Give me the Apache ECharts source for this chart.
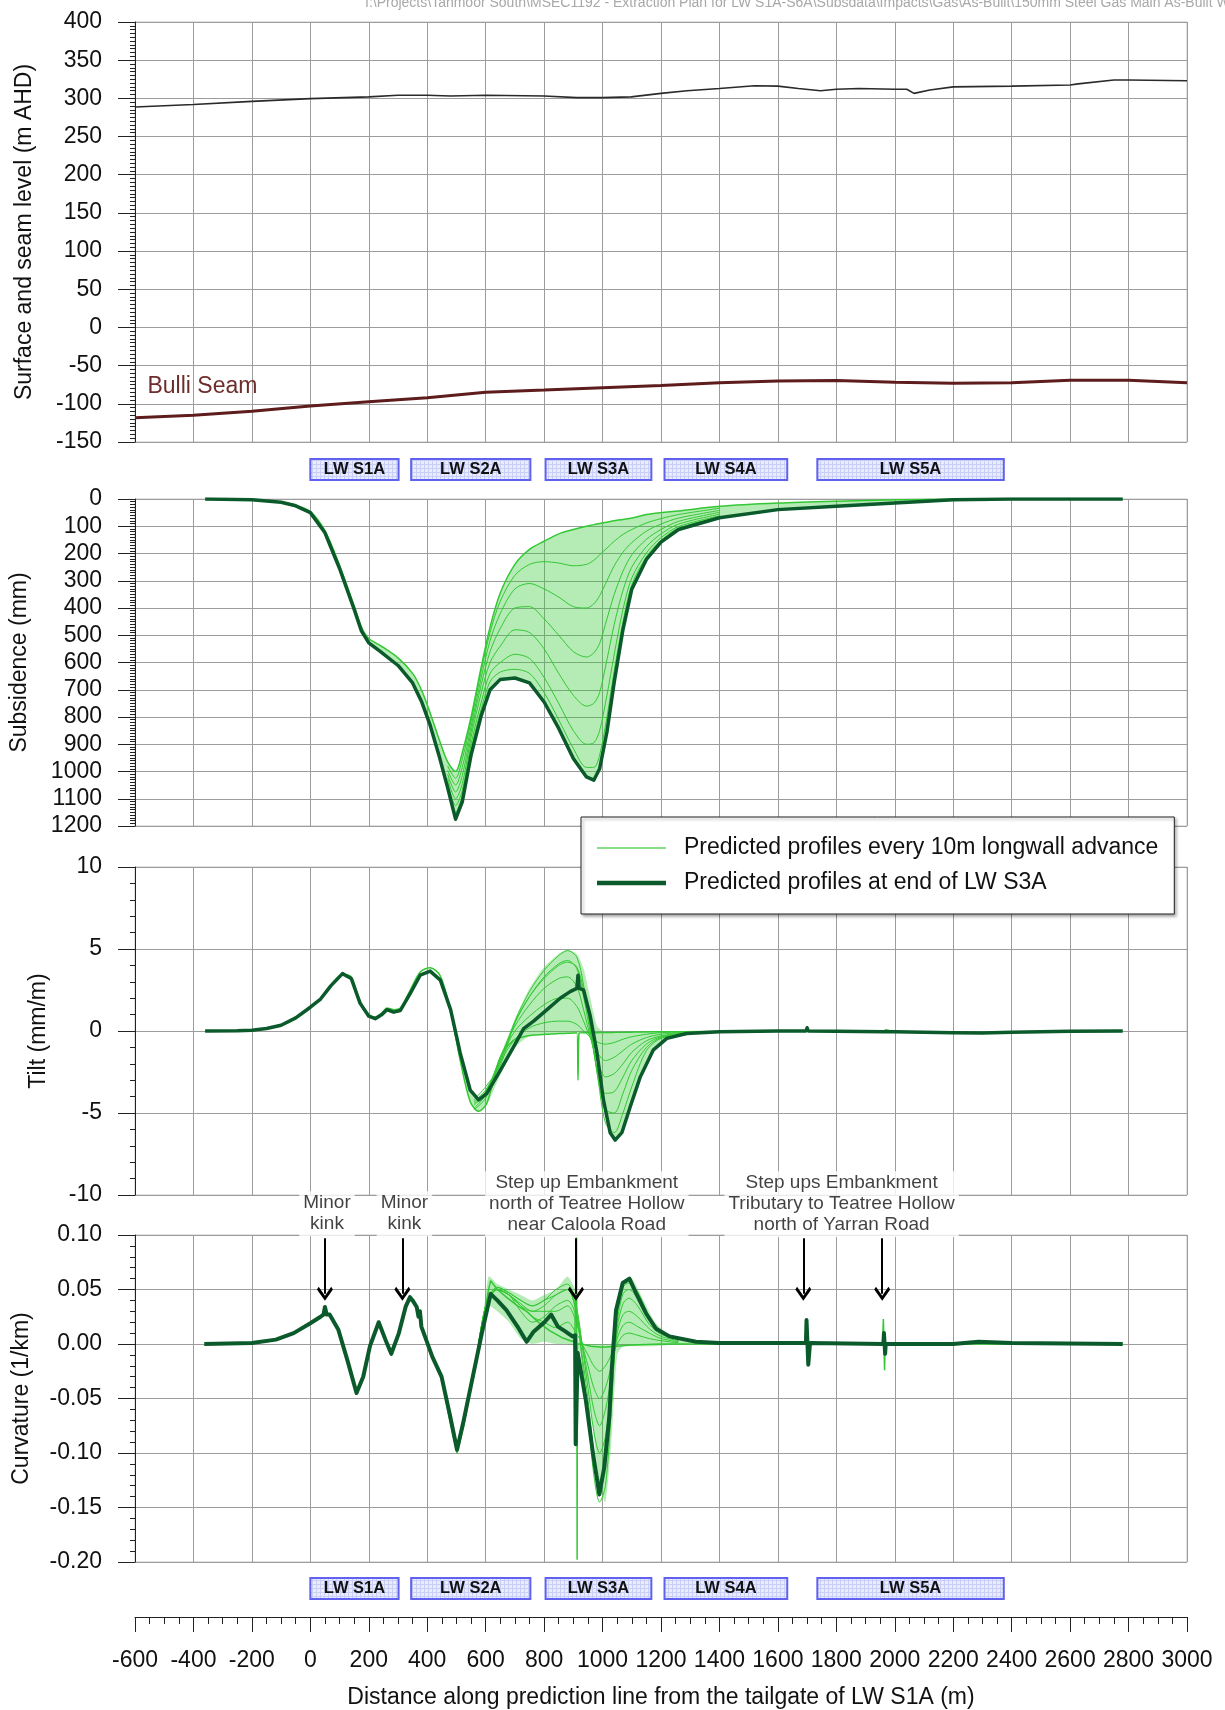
<!DOCTYPE html>
<html>
<head>
<meta charset="utf-8">
<title>Predicted profiles along the gas main</title>
<script src="https://cdn.jsdelivr.net/npm/echarts@6/dist/echarts.min.js"></script>
<style>
  html, body { margin: 0; padding: 0; background: #fff; }
  #chart { width: 1225px; height: 1710px; }
</style>
</head>
<body>
<div id="chart"></div>
<script>
const FONT = "Arial, 'Liberation Sans', sans-serif";
const LIGHT = 'Predicted profiles every 10m longwall advance';
const DARK = 'Predicted profiles at end of LW S3A';
const LIGHT_COLOR = '#33c833';
const DARK_COLOR = '#0b5a2b';

// ---- surface and seam levels (m AHD)
const surfX = [-600, -400, -200, 0, 200, 300, 400, 480, 600, 800, 912, 1000, 1098, 1200, 1289, 1400, 1520, 1600, 1670, 1746, 1800, 1877, 2000, 2041, 2066, 2120, 2200, 2400, 2600, 2627, 2750, 2800, 3000];
const surfLevel = [288.6, 292, 296, 299.6, 302, 304, 304, 303, 304, 303, 301, 301, 302, 306.5, 310, 313, 316.6, 316, 313, 310, 312, 313, 312, 312, 306.5, 311, 315, 316, 317.5, 319, 324, 324, 323];
const seamX = [-600, -400, -200, 0, 200, 400, 600, 800, 1000, 1200, 1400, 1600, 1800, 2000, 2200, 2400, 2600, 2800, 3000];
const seamLevel = [-118.3, -115, -109.6, -103, -97.4, -92, -84.7, -82, -79, -76, -72.5, -70, -69.5, -71.6, -73, -72.5, -69, -69, -72.5];

// ---- longwall panels
const lwNames = ['LW S1A', 'LW S2A', 'LW S3A', 'LW S4A', 'LW S5A'];
const lwStart = [0, 345, 805, 1212, 1735];
const lwEnd = [302, 753, 1167, 1632, 2373];

// ---- subsidence (mm)
const subX = [-360, -300, -200, -100, -50, 0, 50, 100, 150, 175, 200, 240, 300, 350, 380, 410, 440, 470, 497, 520, 550, 585, 615, 650, 700, 750, 800, 850, 900, 945, 970, 990, 1015, 1040, 1070, 1100, 1150, 1200, 1260, 1400, 1600, 1800, 2000, 2200, 2400, 2600, 2780];
const subFinal = [0, 1, 3, 12, 25, 50, 124, 255, 405, 485, 528, 560, 611, 675, 742, 830, 940, 1060, 1175, 1111, 940, 794, 700, 662, 657, 675, 745, 842, 952, 1020, 1032, 990, 855, 672, 478, 331, 222, 158, 112, 69, 39, 27, 15, 3, 0, 0, 0];
const subPre = [0, 1, 3, 11, 23, 46, 116, 243, 392, 470, 512, 538, 583, 640, 700, 785, 880, 965, 1000, 930, 800, 615, 470, 345, 240, 185, 155, 128, 112, 100, 94, 90, 85, 80, 75, 70, 57, 50, 44, 27, 15, 8, 3, 0, 0, 0, 0];
const subStageX = [470, 497, 520, 550, 585, 615, 650, 700, 750, 800, 850, 900, 945, 970, 990, 1015, 1040, 1070, 1100, 1150, 1200, 1260, 1400];
const subStage1 = [980, 1025, 955, 815, 630, 490, 375, 280, 240, 230, 235, 245, 240, 225, 205, 180, 155, 130, 112, 88, 72, 57, 34];
const subStage2 = [995, 1050, 985, 835, 655, 520, 420, 330, 310, 330, 360, 395, 400, 385, 355, 300, 245, 195, 160, 118, 92, 70, 42];
const subStage3 = [1010, 1075, 1015, 855, 680, 560, 475, 400, 395, 440, 500, 560, 580, 565, 530, 440, 350, 265, 205, 148, 112, 82, 49];
const subStage4 = [1025, 1100, 1045, 875, 710, 600, 540, 480, 490, 550, 640, 720, 760, 750, 710, 590, 460, 335, 250, 175, 128, 92, 56];
const subStage5 = [1040, 1125, 1070, 900, 745, 640, 600, 570, 585, 655, 750, 850, 900, 895, 850, 720, 570, 405, 290, 198, 142, 101, 62];
const subStage6 = [1050, 1150, 1090, 920, 770, 670, 635, 625, 640, 710, 810, 915, 985, 985, 940, 800, 630, 450, 315, 212, 152, 107, 66];

// ---- tilt (mm/m)
const tiltX = [-360, -250, -200, -150, -100, -50, 0, 35, 70, 110, 140, 170, 200, 222, 245, 262, 285, 308, 342, 376, 410, 445, 480, 513, 547, 576, 604, 650, 696, 730, 764, 810, 855, 889, 912, 916, 920, 935, 958, 981, 1003, 1026, 1043, 1066, 1095, 1129, 1174, 1220, 1288, 1400, 1600, 1696, 1700, 1704, 1800, 1964, 1968, 2000, 2200, 2300, 2400, 2600, 2780];
const tiltFinal = [0, 0.02, 0.05, 0.15, 0.35, 0.8, 1.45, 1.95, 2.75, 3.5, 3.2, 1.7, 0.9, 0.75, 1.0, 1.3, 1.15, 1.25, 2.3, 3.4, 3.65, 3.1, 1.3, -1.35, -3.6, -4.2, -3.8, -2.4, -0.95, 0.15, 0.6, 1.3, 2.0, 2.4, 2.6, 3.4, 2.6, 2.5, 0.9, -1.35, -4.2, -6.2, -6.65, -6.2, -4.6, -2.8, -1.15, -0.45, -0.15, -0.05, 0, 0, 0.2, 0, -0.02, -0.04, 0.05, -0.05, -0.1, -0.12, -0.08, -0.02, 0];
const tiltPre = [0, 0.02, 0.05, 0.15, 0.33, 0.75, 1.4, 2.0, 2.8, 3.45, 3.3, 1.85, 1.0, 0.85, 1.1, 1.4, 1.3, 1.4, 2.5, 3.6, 3.85, 3.35, 1.2, -1.8, -4.3, -4.9, -4.4, -1.6, -0.55, -0.35, -0.25, -0.2, -0.15, -0.13, -0.12, -3.0, -0.12, -0.1, -0.1, -0.1, -0.09, -0.09, -0.08, -0.08, -0.07, -0.06, -0.05, -0.05, -0.04, -0.03, 0, 0, 0.15, 0, -0.02, -0.04, 0.08, -0.05, -0.1, -0.12, -0.08, -0.02, 0];
const tiltBandX = [480, 513, 547, 576, 604, 650, 700, 750, 800, 850, 880, 912, 935, 958, 981, 1003, 1026, 1043, 1066, 1095, 1129, 1174, 1220, 1288, 1400];
const tiltBandHi = [1.3, -1.3, -3.5, -4.1, -3.7, -1.5, 0.7, 2.6, 3.9, 4.7, 4.95, 4.7, 3.8, 2.0, 0.3, -0.05, -0.06, -0.06, -0.06, -0.05, -0.05, -0.04, -0.03, -0.02, 0];
const tiltBandLo = [1.1, -1.9, -4.4, -4.95, -4.5, -2.7, -1.0, -0.3, -0.2, -0.15, -0.13, -0.12, -0.1, -0.2, -1.4, -4.2, -6.2, -6.7, -6.25, -4.7, -2.9, -1.25, -0.5, -0.2, -0.06];
const tiltStageX = [560, 600, 650, 700, 750, 800, 850, 880, 912, 935, 960, 985, 1010, 1040, 1070, 1100, 1150, 1200, 1300];
const tiltStage1 = [-4.8, -4.1, -1.9, -0.5, 0.2, 0.5, 0.6, 0.6, 0.4, 0.0, -0.4, -0.7, -0.8, -0.7, -0.5, -0.35, -0.2, -0.1, -0.03];
const tiltStage2 = [-4.7, -3.9, -1.7, 0.0, 0.9, 1.6, 2.0, 2.0, 1.5, 0.6, -0.5, -1.4, -1.8, -1.6, -1.2, -0.8, -0.4, -0.2, -0.06];
const tiltStage3 = [-4.5, -3.8, -1.6, 0.3, 1.6, 2.6, 3.2, 3.3, 2.7, 1.3, -0.5, -2.0, -2.8, -2.6, -2.0, -1.3, -0.6, -0.3, -0.08];
const tiltStage4 = [-4.4, -3.7, -1.7, 0.5, 2.1, 3.3, 4.1, 4.3, 3.8, 2.1, -0.3, -2.6, -3.8, -3.7, -2.8, -1.8, -0.8, -0.35, -0.1];
const tiltStage5 = [-4.3, -3.6, -1.9, 0.6, 2.4, 3.7, 4.6, 4.9, 4.5, 2.8, 0.0, -2.9, -4.8, -5.0, -3.8, -2.4, -1.0, -0.4, -0.12];
const tiltStage6 = [-4.2, -3.4, -2.1, 0.5, 2.1, 3.2, 4.0, 4.2, 3.9, 2.5, 0.0, -3.0, -5.6, -6.2, -5.0, -3.4, -1.2, -0.45, -0.13];

// ---- curvature (1/km)
const curvX = [-363, -200, -118, -57, 0, 35, 45, 50, 56, 66, 96, 127, 158, 181, 204, 234, 257, 277, 303, 326, 341, 350, 364, 370, 375, 380, 418, 449, 479, 502, 525, 556, 587, 617, 640, 671, 709, 740, 763, 801, 824, 847, 870, 897, 906, 908, 913, 915, 943, 966, 989, 1006, 1023, 1032, 1046, 1069, 1092, 1114, 1149, 1183, 1229, 1320, 1400, 1600, 1696, 1698, 1702, 1704, 1708, 1710, 1961, 1963, 1965, 1967, 1969, 2200, 2286, 2400, 2780];
const curvFinal = [0, 0.001, 0.004, 0.01, 0.019, 0.025, 0.027, 0.034, 0.027, 0.027, 0.013, -0.015, -0.045, -0.03, -0.002, 0.02, 0.004, -0.009, 0.01, 0.034, 0.043, 0.04, 0.034, 0.025, 0.03, 0.016, -0.012, -0.03, -0.067, -0.097, -0.07, -0.03, 0.01, 0.046, 0.04, 0.031, 0.016, 0.002, 0.011, 0.02, 0.027, 0.016, 0.012, 0.007, 0.008, -0.092, -0.092, -0.008, -0.052, -0.098, -0.138, -0.113, -0.067, -0.021, 0.031, 0.056, 0.06, 0.047, 0.028, 0.014, 0.007, 0.002, 0.001, 0.001, 0.001, 0.022, 0.022, -0.019, -0.019, 0.001, 0, 0.01, 0.01, -0.009, 0, 0, 0.002, 0.001, 0];
const curvPreX = [380, 418, 449, 479, 502, 525, 556, 587, 610, 617, 640, 671, 709, 740, 780, 820, 860, 890, 905, 911, 912, 913, 914, 930, 960, 1000, 1050, 1100, 1200, 1400, 1600, 1958, 1961, 1963, 1965, 1967, 2200, 2780];
const curvPre = [0.016, -0.012, -0.032, -0.072, -0.1, -0.075, -0.03, 0.015, 0.05, 0.058, 0.05, 0.043, 0.035, 0.03, 0.02, 0.012, 0.006, 0.003, 0.002, 0.098, 0.0, -0.198, 0.0, 0.0, -0.002, -0.003, -0.002, -0.001, 0.0, 0.0, 0.0, 0.0, 0.023, 0.0, -0.024, 0.0, 0.0, 0.0];
const curvBandX = [556, 587, 610, 640, 680, 720, 760, 800, 840, 880, 905, 915, 930, 960, 990, 1010, 1030, 1050, 1070, 1100, 1140, 1180, 1230, 1300];
const curvBandHi = [-0.025, 0.015, 0.062, 0.055, 0.05, 0.045, 0.04, 0.045, 0.05, 0.062, 0.05, 0.005, 0.0, 0.0, 0.0, 0.0, 0.0, 0.04, 0.057, 0.06, 0.04, 0.02, 0.008, 0.003];
const curvBandLo = [-0.035, 0.005, 0.035, 0.03, 0.02, 0.005, 0.0, 0.002, 0.0, 0.0, -0.002, -0.005, -0.012, -0.06, -0.13, -0.145, -0.09, -0.01, -0.002, -0.002, -0.002, -0.002, -0.001, 0.0];
const curvStageX = [560, 600, 640, 680, 720, 760, 800, 840, 880, 910, 930, 950, 970, 990, 1010, 1030, 1050, 1070, 1090, 1120, 1160, 1200, 1260];
const curvStage1 = [-0.03, 0.035, 0.05, 0.045, 0.035, 0.025, 0.02, 0.015, 0.02, 0.01, 0.0, -0.01, -0.02, -0.025, -0.02, -0.01, 0.0, 0.008, 0.01, 0.008, 0.005, 0.003, 0.001];
const curvStage2 = [-0.03, 0.035, 0.05, 0.045, 0.037, 0.03, 0.03, 0.03, 0.035, 0.02, 0.0, -0.02, -0.04, -0.05, -0.04, -0.02, 0.005, 0.017, 0.02, 0.016, 0.01, 0.005, 0.002];
const curvStage3 = [-0.03, 0.035, 0.052, 0.047, 0.04, 0.035, 0.04, 0.045, 0.05, 0.03, 0.0, -0.03, -0.06, -0.075, -0.06, -0.03, 0.01, 0.027, 0.03, 0.025, 0.014, 0.007, 0.003];
const curvStage4 = [-0.03, 0.035, 0.052, 0.047, 0.04, 0.035, 0.04, 0.05, 0.055, 0.035, 0.0, -0.04, -0.08, -0.1, -0.085, -0.04, 0.015, 0.037, 0.042, 0.035, 0.018, 0.009, 0.004];
const curvStage5 = [-0.03, 0.035, 0.05, 0.045, 0.035, 0.03, 0.035, 0.045, 0.05, 0.03, -0.01, -0.05, -0.1, -0.125, -0.11, -0.05, 0.02, 0.046, 0.05, 0.042, 0.022, 0.011, 0.005];
const curvStage6 = [-0.03, 0.035, 0.05, 0.045, 0.03, 0.02, 0.025, 0.035, 0.04, 0.025, -0.015, -0.065, -0.12, -0.145, -0.13, -0.06, 0.025, 0.052, 0.056, 0.048, 0.025, 0.012, 0.005];

// ---- annotations on the curvature panel
const noteX = [57, 322, 946, 1818];
const noteY = [0.1195, 0.1195, 0.1282, 0.1282];
const noteText = ['Minor\nkink', 'Minor\nkink', 'Step up Embankment\nnorth of Teatree Hollow\nnear Caloola Road', 'Step ups Embankment\nTributary to Teatree Hollow\nnorth of Yarran Road'];
const arrowX = [50, 315, 909, 1687, 1957];
const arrowTail = 0.097;
const arrowTip = 0.046;

const xTicks = { min: -600, max: 3000, interval: 200 };
const plain = v => String(v);

function pairs(xs, ys) {
  return xs.map((x, i) => [x, ys[i]]);
}

function lineSeries(idx, xs, ys, opts) {
  return Object.assign({
    type: 'line', xAxisIndex: idx, yAxisIndex: idx,
    data: pairs(xs, ys), symbol: 'none', silent: true, animation: false,
    lineStyle: { color: LIGHT_COLOR, width: 1 }, itemStyle: { color: LIGHT_COLOR }
  }, opts);
}

function lightLine(idx, xs, ys, width) {
  return lineSeries(idx, xs, ys, {
    name: LIGHT, z: 2, smooth: 0.3,
    lineStyle: { color: LIGHT_COLOR, width: width || 1 }
  });
}

function darkLine(idx, xs, ys, width) {
  return lineSeries(idx, xs, ys, {
    name: DARK, z: 4,
    lineStyle: { color: DARK_COLOR, width: width, join: 'round' },
    itemStyle: { color: DARK_COLOR }
  });
}

function band(idx, xs, hi, lo) {
  return {
    type: 'custom', xAxisIndex: idx, yAxisIndex: idx, silent: true, z: 1, animation: false,
    data: [[xs[0], hi[0]]],
    renderItem: function (params, api) {
      const pts = [];
      for (let i = 0; i < xs.length; i++) pts.push(api.coord([xs[i], hi[i]]));
      for (let i = xs.length - 1; i >= 0; i--) pts.push(api.coord([xs[i], lo[i]]));
      return { type: 'polygon', shape: { points: pts, smooth: 0.2 }, style: { fill: 'rgba(51,200,51,0.36)' } };
    }
  };
}

// small hatch pattern for the longwall boxes
const hatch = document.createElement('canvas');
hatch.width = 4; hatch.height = 4;
(function () {
  const c = hatch.getContext('2d');
  c.fillStyle = '#e9ecfc'; c.fillRect(0, 0, 4, 4);
  c.fillStyle = '#c9cff6'; c.fillRect(0, 0, 4, 1); c.fillRect(0, 0, 1, 4);
})();

function lwSeries(idx) {
  return {
    type: 'custom', xAxisIndex: idx, yAxisIndex: idx, silent: true, animation: false,
    encode: { x: [0, 1] },
    data: lwStart.map((s, i) => [s, lwEnd[i]]),
    renderItem: function (params, api) {
      const a = api.coord([api.value(0), 1]);
      const b = api.coord([api.value(1), 0]);
      return {
        type: 'group', children: [
          { type: 'rect', shape: { x: a[0], y: a[1], width: b[0] - a[0], height: b[1] - a[1] },
            style: { fill: { image: hatch, repeat: 'repeat' }, stroke: '#6161f0', lineWidth: 2 } },
          { type: 'text', style: { text: lwNames[params.dataIndex], x: (a[0] + b[0]) / 2, y: (a[1] + b[1]) / 2,
            align: 'center', verticalAlign: 'middle', fontSize: 16.5, fontWeight: 'bold', fontFamily: FONT, fill: '#111' } }
        ]
      };
    }
  };
}

const gridLeft = 135, gridRight = 38;
const grids = [
  { top: 22, height: 420 },   // surface / seam
  { top: 459, height: 21 },   // LW boxes
  { top: 499, height: 327 },  // subsidence
  { top: 867, height: 328 },  // tilt
  { top: 1235, height: 327 }, // curvature
  { top: 1578, height: 21 },  // LW boxes
  { top: 1600, height: 18 }   // distance axis
].map((g, i) => Object.assign({
  left: gridLeft, right: gridRight,
  show: [0, 2, 3, 4].indexOf(i) >= 0, borderColor: '#c4c4c4', borderWidth: 1, backgroundColor: 'transparent'
}, g));

const gridLine = { show: true, lineStyle: { color: '#9c9c9c', width: 1 } };

const xAxes = grids.map((g, i) => {
  const ax = Object.assign({ type: 'value', gridIndex: i }, xTicks);
  if (i === 6) {
    return Object.assign(ax, {
      axisLine: { show: true, onZero: false, lineStyle: { color: '#222', width: 1 } },
      axisTick: { show: true, length: 15, lineStyle: { color: '#222' } },
      minorTick: { show: true, splitNumber: 4, length: 7, lineStyle: { color: '#222' } },
      axisLabel: { color: '#111', fontSize: 23, fontFamily: FONT, margin: 32, formatter: plain },
      splitLine: { show: false },
      name: 'Distance along prediction line from the tailgate of LW S1A (m)',
      nameLocation: 'middle', nameGap: 69,
      nameTextStyle: { color: '#111', fontSize: 23, fontFamily: FONT }
    });
  }
  return Object.assign(ax, {
    axisLine: { show: false, onZero: false }, axisTick: { show: false }, axisLabel: { show: false },
    splitLine: (i === 1 || i === 5) ? { show: false } : gridLine
  });
});

function panelY(i, min, max, interval, minor, name, nameGap, extra) {
  return Object.assign({
    type: 'value', gridIndex: i, min: min, max: max, interval: interval,
    axisLine: { show: true, onZero: false, lineStyle: { color: '#222', width: 1 } },
    axisTick: { show: true, length: 17, lineStyle: { color: '#222' } },
    minorTick: { show: true, splitNumber: minor, length: 5, lineStyle: { color: '#222' } },
    axisLabel: { color: '#111', fontSize: 23, fontFamily: FONT, margin: 33, formatter: plain },
    splitLine: gridLine,
    name: name, nameLocation: 'middle', nameGap: nameGap, nameRotate: 90,
    nameTextStyle: { color: '#111', fontSize: 23, fontFamily: FONT }
  }, extra || {});
}

function hiddenY(i) {
  return { type: 'value', gridIndex: i, min: 0, max: 1, show: false };
}

const yAxes = [
  panelY(0, -150, 400, 50, 10, 'Surface and seam level (m AHD)', 99),
  hiddenY(1),
  panelY(2, 0, 1200, 100, 10, 'Subsidence (mm)', 104, { inverse: true }),
  panelY(3, -10, 10, 5, 5, 'Tilt (mm/m)', 85),
  panelY(4, -0.2, 0.1, 0.05, 5, 'Curvature (1/km)', 102, {
    axisLabel: { color: '#111', fontSize: 23, fontFamily: FONT, margin: 33,
      formatter: v => (Math.abs(v) < 1e-9 ? 0 : v).toFixed(2) }
  }),
  hiddenY(5),
  hiddenY(6)
];

const series = [
  // surface and seam
  lineSeries(0, surfX, surfLevel, { lineStyle: { color: '#2a2a2a', width: 1.6 } }),
  lineSeries(0, seamX, seamLevel, {
    lineStyle: { color: '#5e1c1c', width: 3 },
    markPoint: {
      silent: true, symbol: 'circle', symbolSize: 1, itemStyle: { color: 'rgba(0,0,0,0)' },
      data: [{ coord: [-559, -78] }],
      label: { show: true, position: 'right', distance: 0, formatter: 'Bulli Seam',
        color: '#6e2d2d', fontSize: 23, fontFamily: FONT }
    }
  }),
  lwSeries(1),
  lwSeries(5),

  // subsidence
  band(2, subX, subPre, subFinal),
  lightLine(2, subX, subPre, 1.5),
  lightLine(2, subStageX, subStage1),
  lightLine(2, subStageX, subStage2),
  lightLine(2, subStageX, subStage3),
  lightLine(2, subStageX, subStage4),
  lightLine(2, subStageX, subStage5),
  lightLine(2, subStageX, subStage6),
  darkLine(2, subX, subFinal, 3.5),

  // tilt
  band(3, tiltBandX, tiltBandHi, tiltBandLo),
  lightLine(3, tiltX, tiltPre, 1.5),
  lightLine(3, tiltStageX, tiltStage1),
  lightLine(3, tiltStageX, tiltStage2),
  lightLine(3, tiltStageX, tiltStage3),
  lightLine(3, tiltStageX, tiltStage4),
  lightLine(3, tiltStageX, tiltStage5),
  lightLine(3, tiltStageX, tiltStage6),
  darkLine(3, tiltX, tiltFinal, 3.5),

  // curvature
  band(4, curvBandX, curvBandHi, curvBandLo),
  Object.assign(lightLine(4, curvPreX, curvPre, 1.5), { smooth: false }),
  lightLine(4, curvStageX, curvStage1),
  lightLine(4, curvStageX, curvStage2),
  lightLine(4, curvStageX, curvStage3),
  lightLine(4, curvStageX, curvStage4),
  lightLine(4, curvStageX, curvStage5),
  lightLine(4, curvStageX, curvStage6),
  darkLine(4, curvX, curvFinal, 4),

  // notes and arrows
  {
    type: 'scatter', xAxisIndex: 4, yAxisIndex: 4, clip: false, silent: true, z: 6, animation: false,
    symbolSize: 1, itemStyle: { color: 'rgba(0,0,0,0)' },
    data: noteX.map((x, i) => ({ value: [x, noteY[i]], name: noteText[i] })),
    label: {
      show: true, position: 'inside', formatter: '{b}', color: '#111',
      fontSize: 19, lineHeight: 21, fontFamily: FONT, align: 'center',
      backgroundColor: '#fff', padding: [1, 4, 2, 4]
    },
    markLine: {
      silent: true, animation: false,
      symbol: ['none', 'path://M0,9 L9,0 L18,9 L16,11 L9,4 L2,11 Z'],
      symbolSize: [16, 14],
      lineStyle: { color: '#000', width: 2, type: 'solid' },
      label: { show: false },
      data: arrowX.map(x => [{ coord: [x, arrowTail] }, { coord: [x, arrowTip] }])
    }
  }
];

const chart = echarts.init(document.getElementById('chart'));
chart.setOption({
  animation: false,
  backgroundColor: '#fff',
  textStyle: { fontFamily: FONT },
  title: {
    text: 'I:\\Projects\\Tahmoor South\\MSEC1192 - Extraction Plan for LW S1A-S6A\\Subsdata\\Impacts\\Gas\\As-Built\\150mm Steel Gas Main As-Built W',
    left: 360, top: -9,
    textStyle: { color: '#a8a8a8', fontSize: 14, fontWeight: 'normal', fontFamily: FONT }
  },
  legend: {
    orient: 'vertical', left: 581, top: 817, selectedMode: false,
    padding: [18, 16, 18, 16], itemGap: 9, itemWidth: 69, itemHeight: 14,
    backgroundColor: '#fff', borderColor: '#222', borderWidth: 1,
    shadowColor: 'rgba(0,0,0,0.35)', shadowBlur: 3, shadowOffsetX: 2, shadowOffsetY: 2,
    textStyle: { color: '#111', fontSize: 23, fontFamily: FONT, lineHeight: 26, padding: [0, 0, 0, 13] },
    data: [
      { name: LIGHT, icon: 'path://M0,0 L69,0 L69,2 L0,2 Z', itemStyle: { color: '#86e086' } },
      { name: DARK, icon: 'path://M0,0 L69,0 L69,4.5 L0,4.5 Z', itemStyle: { color: DARK_COLOR } }
    ]
  },
  grid: grids,
  xAxis: xAxes,
  yAxis: yAxes,
  series: series
});
</script>
</body>
</html>
